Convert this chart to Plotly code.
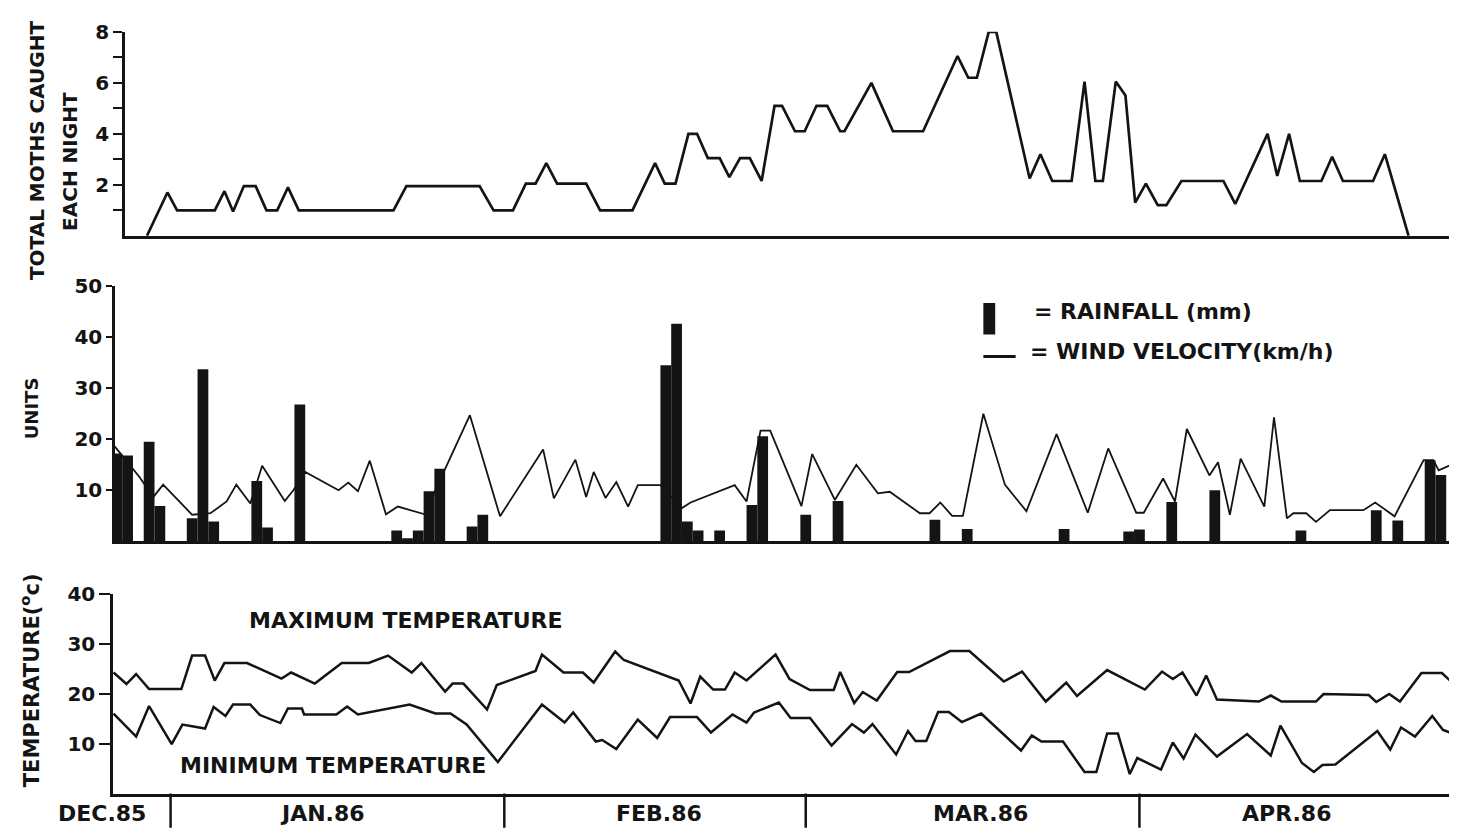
import plotly.graph_objects as go

# x values = day number counted from 1 Jan 1986 (31 Dec 1985 = -1)

# ---- Panel 1: total moths caught each night ----
moth_day = [-2.2, -0.3, 0.6, 4.1, 5.0, 5.8, 6.8, 7.9, 8.9, 9.9, 10.9, 11.9, 20.7, 21.9,
            28.7, 30.0, 31.8, 33.0, 33.9, 34.9, 35.9, 38.6, 39.9, 42.9, 45.0, 45.9, 46.9,
            48.1, 48.9, 49.9, 51.0, 51.9, 52.9, 53.8, 54.9, 56.1, 56.8, 58.0, 58.9, 60.0,
            61.0, 62.2, 62.6, 65.1, 67.1, 69.9, 73.1, 74.1, 74.9, 76.0, 76.7, 79.8, 80.8,
            81.9, 83.7, 84.9, 85.9, 86.6, 87.8, 88.7, 89.6, 90.6, 91.7, 92.5, 93.9, 97.8,
            98.9, 101.9, 102.8, 103.9, 104.9, 106.9, 107.9, 108.9, 111.7, 112.8, 115.0]
moth_count = [0, 1.7, 1.0, 1.0, 1.75, 0.95, 1.95, 1.95, 1.0, 1.0, 1.9, 1.0, 1.0, 1.95,
              1.95, 1.0, 1.0, 2.05, 2.05, 2.85, 2.05, 2.05, 1.0, 1.0, 2.85, 2.05, 2.05,
              4.0, 4.0, 3.05, 3.05, 2.3, 3.05, 3.05, 2.15, 5.1, 5.1, 4.1, 4.1, 5.1,
              5.1, 4.1, 4.1, 6.0, 4.1, 4.1, 7.05, 6.2, 6.2, 8.0, 8.0, 2.25, 3.2,
              2.15, 2.15, 6.05, 2.15, 2.15, 6.05, 5.5, 1.3, 2.05, 1.2, 1.2, 2.15, 2.15,
              1.25, 4.0, 2.35, 4.0, 2.15, 2.15, 3.1, 2.15, 2.15, 3.2, 0]

# ---- Panel 2: rainfall (mm) bars and wind velocity (km/h) line ----
rain_day = [-5, -4, -2, -1, 2, 3, 4, 8, 9, 12, 21, 22, 23, 24, 25, 28, 29, 46, 47, 48, 49,
            51, 54, 55, 59, 62, 71, 74, 83, 89, 90, 93, 97, 105, 112, 114, 117, 118, 120]
rain_mm = [17.2, 16.8, 19.5, 6.9, 4.5, 33.7, 3.9, 11.8, 2.7, 26.8, 2.1, 0.6, 2.1, 9.8, 14.2,
           2.9, 5.2, 34.5, 42.6, 3.9, 2.1, 2.1, 7.1, 20.6, 5.2, 7.9, 4.2, 2.4, 2.4, 1.9,
           2.3, 7.7, 10.0, 2.1, 6.1, 4.1, 15.9, 13.0, 1.9]

wind_day = [-5.2, -2.9, -1.6, -0.7, 2.0, 3.7, 5.2, 6.1, 7.4, 8.5, 10.6, 11.4, 12.5, 15.6,
            16.5, 17.4, 18.5, 20.0, 21.1, 23.6, 25.5, 27.8, 30.6, 34.6, 35.6, 37.6, 38.6,
            39.3, 40.4, 41.4, 42.5, 43.4, 45.5, 47.5, 48.3, 52.4, 53.5, 54.8, 55.7, 58.6,
            59.6, 61.7, 63.7, 65.7, 66.8, 69.6, 70.5, 71.5, 72.6, 73.6, 75.5, 77.5, 79.5,
            82.3, 85.2, 87.1, 89.7, 90.4, 92.2, 93.3, 94.4, 96.5, 97.3, 98.4, 99.4, 101.6,
            102.5, 103.7, 104.3, 105.5, 106.4, 107.7, 110.8, 111.9, 113.7, 116.4, 117.3,
            117.8, 119.5]
wind_kmh = [18.6, 12.6, 8.7, 11.1, 5.2, 5.5, 7.8, 11.1, 7.4, 14.8, 7.9, 10.0, 13.6, 10.0,
            11.5, 9.8, 15.8, 5.3, 6.8, 5.3, 14.2, 24.7, 4.9, 18.0, 8.4, 16.0, 8.7,
            13.6, 8.5, 11.6, 6.8, 11.0, 11.0, 6.5, 7.6, 11.0, 7.8, 21.7, 21.7, 6.9,
            17.1, 8.1, 15.0, 9.4, 9.7, 5.5, 5.5, 7.6, 5.0, 5.0, 25.0, 11.1, 5.9,
            21.0, 5.6, 18.2, 5.6, 5.6, 12.3, 7.8, 22.0, 12.9, 15.5, 5.2, 16.2, 6.8,
            24.3, 4.5, 5.5, 5.5, 3.8, 6.1, 6.1, 7.6, 4.9, 15.9, 15.9,
            13.9, 15.5]

# ---- Panel 3: maximum and minimum temperature (deg C) ----
tmax_day = [-5.3, -4.1, -3.2, -2.0, 1.0, 2.0, 3.2, 4.1, 5.0, 7.1, 10.3, 11.2, 13.4, 15.9,
            18.4, 20.2, 22.4, 23.3, 25.5, 26.2, 27.2, 29.4, 30.3, 33.9, 34.5, 36.5, 38.3,
            39.3, 41.3, 42.1, 47.2, 48.3, 49.2, 50.4, 51.5, 52.4, 53.5, 56.2, 57.5, 59.4,
            61.6, 62.2, 63.5, 64.3, 65.6, 67.5, 68.6, 72.4, 74.2, 77.4, 79.1, 81.3, 83.2,
            84.2, 87.0, 90.5, 92.1, 93.1, 94.0, 95.3, 96.2, 97.2, 101.1, 102.2, 103.2,
            106.4, 107.1, 111.3, 112.0, 113.2, 114.2, 116.2, 118.1, 119.5]
tmax_c = [24.2, 21.9, 23.9, 20.9, 20.9, 27.6, 27.6, 22.6, 26.1, 26.1, 23.0, 24.2, 22.0, 26.1,
          26.1, 27.6, 24.2, 26.1, 20.4, 22.0, 22.0, 16.8, 21.7, 24.5, 27.8, 24.2, 24.2,
          22.2, 28.4, 26.7, 22.6, 18.0, 23.4, 20.8, 20.8, 24.2, 22.6, 27.8, 22.9, 20.7,
          20.7, 24.3, 18.1, 20.3, 18.6, 24.3, 24.3, 28.5, 28.5, 22.4, 24.4, 18.4, 22.2,
          19.5, 24.7, 20.8, 24.4, 22.9, 24.2, 19.6, 23.6, 18.8, 18.4, 19.6, 18.4,
          18.4, 19.9, 19.7, 18.3, 19.9, 18.4, 24.1, 24.1, 21.3]

tmin_day = [-5.3, -3.2, -2.0, 0.1, 1.1, 3.2, 4.0, 5.1, 5.8, 7.4, 8.3, 10.2, 10.9, 12.2, 12.4,
            15.4, 16.4, 17.4, 22.2, 24.6, 26.0, 27.5, 30.4, 34.5, 36.6, 37.4, 39.5, 40.1,
            41.4, 43.4, 45.2, 46.4, 48.9, 50.2, 52.2, 53.5, 54.2, 56.5, 57.6, 59.4, 61.4,
            63.3, 64.4, 65.2, 67.4, 68.5, 69.2, 70.2, 71.3, 72.3, 73.5, 75.3, 79.0, 80.0,
            80.9, 82.9, 84.9, 86.0, 87.0, 88.0, 89.1, 89.8, 92.0, 93.1, 94.1, 95.2, 97.2,
            100.0, 102.2, 103.1, 105.1, 106.2, 107.0, 108.2, 112.1, 113.3, 114.3, 115.6,
            117.2, 118.2, 119.5]
tmin_c = [16.0, 11.4, 17.5, 9.9, 13.8, 13.0, 17.3, 15.5, 17.8, 17.8, 15.7, 14.1, 17.0, 17.0, 15.8,
          15.8, 17.4, 15.8, 17.8, 16.0, 16.0, 13.8, 6.3, 17.8, 14.2, 16.2, 10.4, 10.7,
          8.9, 14.8, 11.1, 15.3, 15.3, 12.2, 15.8, 14.2, 16.2, 18.2, 15.1, 15.1, 9.6,
          13.9, 12.2, 13.9, 7.8, 12.5, 10.5, 10.5, 16.3, 16.3, 14.3, 16.0, 8.6, 11.6,
          10.4, 10.4, 4.3, 4.3, 12.0, 12.0, 3.9, 7.1, 4.8, 10.2, 7.0, 11.8, 7.4,
          11.9, 7.6, 13.6, 6.1, 4.3, 5.7, 5.8, 12.5, 8.8, 13.2, 11.4,
          15.5, 12.7, 11.7]

# ---- Month axis ----
month_labels = ["DEC.85", "JAN.86", "FEB.86", "MAR.86", "APR.86"]
month_label_day = [-6.4, 14.1, 45.4, 75.2, 103.7]
month_start_day = [0, 31, 59, 90]

moth_ticks = [1, 2, 3, 4, 5, 6, 7, 8]
moth_ticktext = [" ", "2", " ", "4", " ", "6", " ", "8"]
unit_ticks = [10, 20, 30, 40, 50]
temp_ticks = [10, 20, 30, 40]

INK = "#141414"
FONT = "DejaVu Sans, Liberation Sans, Arial, sans-serif"

# figure is drawn inside the page body (8 px default margin)
W, H = 1449, 823

X1_DOM, X1_RANGE = [0.08075, 1.0], [-4.24, 119.5]
X2_DOM, X2_RANGE = [0.07384, 1.0], [-5.17, 119.5]
X3_DOM, X3_RANGE = [0.07246, 1.0], [-5.35, 119.5]
Y1_DOM = [0.7339, 0.9854]
Y2_DOM = [0.3572, 0.6719]
Y3_DOM = [0.0462, 0.2928]


def x3_paper(d):
    return X3_DOM[0] + (d - X3_RANGE[0]) / (X3_RANGE[1] - X3_RANGE[0]) * (X3_DOM[1] - X3_DOM[0])


fig = go.Figure()
fig.add_trace(go.Scatter(x=moth_day, y=moth_count, mode="lines",
                         line=dict(color=INK, width=2.7), xaxis="x", yaxis="y",
                         name="Total moths caught each night"))
fig.add_trace(go.Bar(x=rain_day, y=rain_mm, width=1.0,
                     marker=dict(color=INK, line=dict(width=0)),
                     xaxis="x2", yaxis="y2", name="Rainfall (mm)"))
fig.add_trace(go.Scatter(x=wind_day, y=wind_kmh, mode="lines",
                         line=dict(color=INK, width=1.8), xaxis="x2", yaxis="y2",
                         name="Wind velocity (km/h)"))
fig.add_trace(go.Scatter(x=tmax_day, y=tmax_c, mode="lines",
                         line=dict(color=INK, width=2.5), xaxis="x3", yaxis="y3",
                         name="Maximum temperature"))
fig.add_trace(go.Scatter(x=tmin_day, y=tmin_c, mode="lines",
                         line=dict(color=INK, width=2.5), xaxis="x3", yaxis="y3",
                         name="Minimum temperature"))

xcommon = dict(showline=True, linecolor=INK, linewidth=2.5, showgrid=False,
               zeroline=False, ticks="", showticklabels=False, fixedrange=True)
ycommon = dict(showline=True, linecolor=INK, linewidth=2.5, showgrid=False,
               zeroline=False, ticks="outside", tickcolor=INK, tickwidth=2,
               tickfont=dict(family=FONT, size=20, color=INK, weight="bold"),
               fixedrange=True)

fig.update_layout(
    width=W, height=H, autosize=False,
    margin=dict(l=0, r=0, t=0, b=0),
    paper_bgcolor="white", plot_bgcolor="white",
    showlegend=False, barmode="overlay",
    font=dict(family=FONT, color=INK),
    xaxis=dict(domain=X1_DOM, range=X1_RANGE, anchor="y", **xcommon),
    xaxis2=dict(domain=X2_DOM, range=X2_RANGE, anchor="y2", **xcommon),
    xaxis3=dict(domain=X3_DOM, range=X3_RANGE, anchor="y3", **xcommon),
    yaxis=dict(domain=Y1_DOM, range=[0, 8], anchor="x", tickvals=moth_ticks,
               ticktext=moth_ticktext, ticklen=9, **ycommon),
    yaxis2=dict(domain=Y2_DOM, range=[0, 50], anchor="x2", tickvals=unit_ticks,
                ticklen=6, **ycommon),
    yaxis3=dict(domain=Y3_DOM, range=[0, 40], anchor="x3", tickvals=temp_ticks,
                ticklen=11, **ycommon),
)

shapes = []
for d in month_start_day:
    shapes.append(dict(type="line", xref="x3", yref="paper", x0=d, x1=d,
                       y0=Y3_DOM[0], y1=0.004, line=dict(color=INK, width=2.5)))
# legend glyphs
shapes.append(dict(type="rect", xref="x2", yref="y2", x0=75.5, x1=76.6, y0=40.5, y1=46.7,
                   fillcolor=INK, line=dict(width=0)))
shapes.append(dict(type="line", xref="x2", yref="y2", x0=75.5, x1=78.5, y0=36.2, y1=36.2,
                   line=dict(color=INK, width=3)))
fig.update_layout(shapes=shapes)

BIG = dict(family=FONT, size=22, color=INK, weight="bold")
ann = []
for lab, d in zip(month_labels, month_label_day):
    ann.append(dict(text=lab, xref="paper", yref="paper", x=x3_paper(d), y=0.0219,
                    xanchor="center", yanchor="middle", showarrow=False, font=BIG))
ann += [
    dict(text="MAXIMUM TEMPERATURE", xref="x3", yref="y3", x=7.1, y=34.7,
         xanchor="left", yanchor="middle", showarrow=False, font=BIG),
    dict(text="MINIMUM TEMPERATURE", xref="x3", yref="y3", x=0.7, y=5.7,
         xanchor="left", yanchor="middle", showarrow=False, font=BIG),
    dict(text="= RAINFALL (mm)", xref="x2", yref="y2", x=80.0, y=45.1,
         xanchor="left", yanchor="middle", showarrow=False, font=BIG),
    dict(text="= WIND VELOCITY(km/h)", xref="x2", yref="y2", x=79.65, y=37.1,
         xanchor="left", yanchor="middle", showarrow=False, font=BIG),
    dict(text="TOTAL MOTHS CAUGHT", xref="paper", yref="paper", x=0.0200, y=0.8396,
         textangle=-90, xanchor="center", yanchor="middle", showarrow=False,
         font=dict(family=FONT, size=20, color=INK, weight="bold")),
    dict(text="EACH NIGHT", xref="paper", yref="paper", x=0.0428, y=0.8250,
         textangle=-90, xanchor="center", yanchor="middle", showarrow=False,
         font=dict(family=FONT, size=20, color=INK, weight="bold")),
    dict(text="UNITS", xref="paper", yref="paper", x=0.0159, y=0.5213,
         textangle=-90, xanchor="center", yanchor="middle", showarrow=False,
         font=dict(family=FONT, size=18, color=INK, weight="bold")),
    dict(text="TEMPERATURE(<sup>o</sup>c)", xref="paper", yref="paper", x=0.0152, y=0.1859,
         textangle=-90, xanchor="center", yanchor="middle", showarrow=False,
         font=dict(family=FONT, size=21, color=INK, weight="bold")),
]
fig.update_layout(annotations=ann)

fig.write_html("out.html")
